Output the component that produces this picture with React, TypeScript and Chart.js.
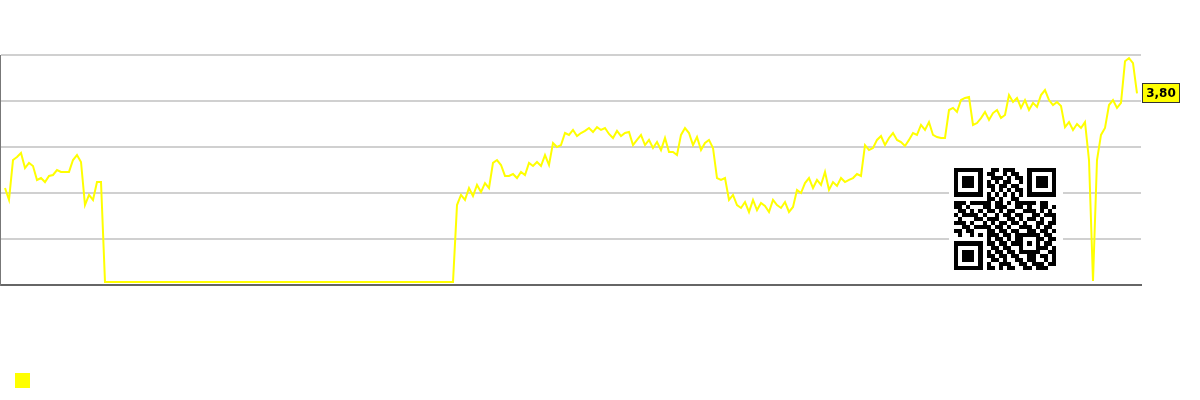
import { useEffect, useRef } from "react";
import { Chart, registerables } from "chart.js";

Chart.register(...registerables);

// y grid values (labels hidden in the reference)
const yTicks = [2.8, 3.04, 3.28, 3.52, 3.76, 4.0];
const yMin = 2.8;
const yMax = 4.0;

// price series, evenly spaced in time
const priceValues = [
  3.306, 3.244, 3.452, 3.468, 3.489, 3.410, 3.437, 3.421, 3.348, 3.358,
  3.337, 3.369, 3.374, 3.400, 3.390, 3.390, 3.390, 3.452, 3.478, 3.442,
  3.217, 3.270, 3.244, 3.337, 3.337,
  2.816, 2.816, 2.816, 2.816, 2.816, 2.816, 2.816, 2.816, 2.816, 2.816, 2.816,
  2.816, 2.816, 2.816, 2.816, 2.816, 2.816, 2.816, 2.816, 2.816, 2.816, 2.816,
  2.816, 2.816, 2.816, 2.816, 2.816, 2.816, 2.816, 2.816, 2.816, 2.816, 2.816,
  2.816, 2.816, 2.816, 2.816, 2.816, 2.816, 2.816, 2.816, 2.816, 2.816, 2.816,
  2.816, 2.816, 2.816, 2.816, 2.816, 2.816, 2.816, 2.816, 2.816, 2.816, 2.816,
  2.816, 2.816, 2.816, 2.816, 2.816, 2.816, 2.816, 2.816, 2.816, 2.816, 2.816,
  2.816, 2.816, 2.816, 2.816, 2.816, 2.816, 2.816, 2.816, 2.816, 2.816, 2.816,
  2.816, 2.816, 2.816, 2.816, 2.816, 2.816, 2.816, 2.816, 2.816, 2.816, 2.816,
  3.217, 3.270, 3.244, 3.306, 3.264, 3.322, 3.285, 3.332, 3.306, 3.437,
  3.452, 3.426, 3.369, 3.369, 3.379, 3.358, 3.390, 3.374, 3.437, 3.421,
  3.442, 3.421, 3.478, 3.426, 3.541, 3.520, 3.530, 3.593, 3.583, 3.609,
  3.577, 3.593, 3.604, 3.619, 3.598, 3.624, 3.609, 3.619, 3.588, 3.567,
  3.604, 3.577, 3.593, 3.598, 3.530, 3.557, 3.583, 3.530, 3.557, 3.515,
  3.546, 3.504, 3.567, 3.494, 3.494, 3.478, 3.583, 3.619, 3.593, 3.530,
  3.572, 3.504, 3.541, 3.557, 3.515, 3.358, 3.348, 3.358, 3.244, 3.270,
  3.217, 3.202, 3.233, 3.181, 3.244, 3.191, 3.228, 3.212, 3.181, 3.244,
  3.217, 3.202, 3.233, 3.181, 3.207, 3.296, 3.280, 3.332, 3.358, 3.306,
  3.348, 3.322, 3.390, 3.296, 3.337, 3.317, 3.358, 3.337, 3.348, 3.358,
  3.379, 3.369, 3.530, 3.504, 3.515, 3.557, 3.577, 3.530, 3.567, 3.593,
  3.557, 3.546, 3.525, 3.557, 3.593, 3.583, 3.635, 3.609, 3.650, 3.583,
  3.572, 3.567, 3.567, 3.713, 3.724, 3.703, 3.765, 3.776, 3.781, 3.635,
  3.645, 3.671, 3.703, 3.661, 3.697, 3.713, 3.671, 3.687, 3.791, 3.755,
  3.776, 3.724, 3.765, 3.713, 3.750, 3.729, 3.791, 3.817, 3.765, 3.739,
  3.755, 3.734, 3.624, 3.650, 3.609, 3.640, 3.619, 3.650, 3.452, 2.821,
  3.452, 3.583, 3.619, 3.739, 3.765, 3.724, 3.750, 3.967, 3.984, 3.958,
  3.800,
];

const lastLabel = "3,80";
const seriesLabel = "";
const lineColor = "#ffff00";

// QR code module rows (25 x 25)
const qrRows = [
  "1111111001101110001111111",
  "1000001011001011001000001",
  "1011101001110101101011101",
  "1011101010101100101011101",
  "1011101011011011001011101",
  "1000001001010101101000001",
  "1111111010101010101111111",
  "0000000011010011000000000",
  "1110111110110101111101100",
  "1101000110111001101001101",
  "0110101011010110011101010",
  "1011110100101101100110111",
  "0100011011100110101101001",
  "1110100101011011010011011",
  "0011011110110100111010110",
  "1101100011011011001101101",
  "0100101011101101111110110",
  "0000000010110101100011011",
  "1111111011011011101010110",
  "1000001001101100100011101",
  "1011101010110110111110011",
  "1011101011011011001101101",
  "1011101001101001101100101",
  "1000001010011100110111011",
  "1111111011010110011011100",
];

export default function App() {
  const ref = useRef<HTMLCanvasElement>(null);

  useEffect(() => {
    document.body.style.margin = "0";
    const canvas = ref.current;
    if (!canvas) return;

    const lastLabelPlugin = {
      id: "lastLabel",
      afterDraw(chart: any) {
        const { ctx, chartArea, scales } = chart;
        const yPix = scales.y.getPixelForValue(priceValues[priceValues.length - 1]);
        const w = 38;
        const h = 20;
        const x0 = Math.round(chartArea.right) + 1;
        const y0 = Math.round(yPix - h / 2);
        ctx.save();
        ctx.fillStyle = lineColor;
        ctx.fillRect(x0, y0, w, h);
        ctx.strokeStyle = "#333333";
        ctx.lineWidth = 1;
        ctx.strokeRect(x0 + 0.5, y0 + 0.5, w - 1, h - 1);
        ctx.fillStyle = "#000000";
        ctx.font = 'bold 12px "DejaVu Sans"';
        ctx.textAlign = "center";
        ctx.textBaseline = "middle";
        ctx.fillText(lastLabel, x0 + w / 2, y0 + h / 2 + 1);
        ctx.restore();
      },
    };

    const qrPlugin = {
      id: "qrBadge",
      afterDatasetsDraw(chart: any) {
        const { ctx, chartArea } = chart;
        const n = qrRows.length;
        const size = 102;
        const m = size / n;
        const left = chartArea.right - 187;
        const top = chartArea.bottom - 117;
        ctx.save();
        ctx.fillStyle = "#ffffff";
        ctx.fillRect(left - 5, top - 5, size + 12, size + 12);
        ctx.fillStyle = "#000000";
        for (let r = 0; r < n; r++) {
          for (let c = 0; c < n; c++) {
            if (qrRows[r][c] === "1") {
              const x1 = Math.round(left + c * m);
              const x2 = Math.round(left + (c + 1) * m);
              const y1 = Math.round(top + r * m);
              const y2 = Math.round(top + (r + 1) * m);
              ctx.fillRect(x1, y1, x2 - x1, y2 - y1);
            }
          }
        }
        ctx.restore();
      },
    };

    const chart = new Chart(canvas, {
      type: "line",
      data: {
        datasets: [
          {
            label: seriesLabel,
            data: priceValues.map((v, i) => ({ x: i, y: v })),
            borderColor: lineColor,
            backgroundColor: lineColor,
            borderWidth: 2,
            pointRadius: 0,
            tension: 0,
            fill: false,
            clip: 8,
          },
        ],
      },
      options: {
        responsive: false,
        animation: false,
        devicePixelRatio: 1,
        layout: { padding: { top: 55, right: 59, left: 0, bottom: 2 } },
        scales: {
          x: {
            type: "linear",
            min: -1.25,
            max: 284,
            ticks: { display: false },
            grid: { display: false, drawTicks: false },
            border: { display: true, color: "#666666", width: 2 },
            afterFit: (s: any) => {
              s.height = 73;
            },
          },
          y: {
            min: yMin,
            max: yMax,
            ticks: { display: false },
            afterBuildTicks: (s: any) => {
              s.ticks = yTicks.map((v) => ({ value: v }));
            },
            grid: { color: "#d0d0d0", lineWidth: 2, drawTicks: false },
            border: { display: true, color: "#777777", width: 1 },
          },
        },
        plugins: {
          legend: {
            position: "bottom",
            align: "start",
            labels: {
              boxWidth: 15,
              boxHeight: 15,
              padding: 15,
              generateLabels: (ch: any) =>
                Chart.defaults.plugins.legend.labels
                  .generateLabels(ch)
                  .map((l: any) => ({ ...l, lineWidth: 0, text: "" })),
            },
          },
          tooltip: { enabled: false },
        },
      },
      plugins: [qrPlugin, lastLabelPlugin],
    });

    return () => chart.destroy();
  }, []);

  return (
    <div style={{ width: 1200, height: 400 }}>
      <canvas ref={ref} width={1200} height={400} />
    </div>
  );
}
